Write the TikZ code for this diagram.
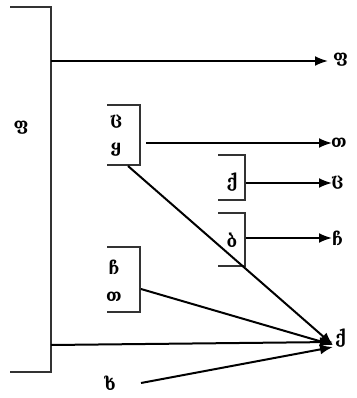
\documentclass[tikz,border=0pt]{standalone}
\usepackage{fontspec}
\usetikzlibrary{arrows.meta}
\newfontfamily\geo{DejaVu Serif}
\begin{document}
\begin{tikzpicture}[x=1pt,y=-1pt,
  lbl/.style={inner sep=0pt,font=\geo\bfseries\fontsize{17}{19}\selectfont},
  brk/.style={line width=1.6pt,draw=black!80},
  arr/.style={line width=2pt,-{Latex[length=13pt,width=10pt]}},
  ln/.style={line width=2pt}]
\useasboundingbox (0,0) rectangle (356,398);
% left big bracket
\coordinate (LT) at (10,7);
\coordinate (LTR) at (51,7);
\coordinate (LBR) at (51,372);
\coordinate (LB) at (10,372);
\draw[brk] (LT) -- (LTR) -- (LBR) -- (LB);
\node[lbl] (left) at (21,128) {ფ};
% box 1
\draw[brk] (107,105) coordinate (b1t) -- (140,105) -- (140,165) coordinate (b1r) -- (107,165) coordinate (b1b);
\node[lbl] (c1) at (116,122) {ც};
\node[lbl] (y1) at (116,150) {ყ};
% box 2
\draw[brk] (218,155) -- (245,155) -- (245,200) -- (218,200);
\node[lbl] (k2) at (232,182) {ქ};
% box 3
\draw[brk] (218,213) -- (245,213) -- (245,266) -- (218,266);
\node[lbl] (b3) at (232,240) {ბ};
% box 4
\draw[brk] (107,247) -- (140,247) -- (140,312) -- (107,312);
\node[lbl] (ch4) at (114,267) {ჩ};
\node[lbl] (t4) at (114,297) {თ};
% right labels
\node[lbl,anchor=west] (rP) at (333,60) {ფ};
\node[lbl,anchor=west] (rT) at (331,143) {თ};
\node[lbl,anchor=west] (rC) at (331,183) {ც};
\node[lbl,anchor=west] (rCh) at (332,238) {ჩ};
\node[lbl,anchor=west] (rK) at (335,338) {ქ};
\node[lbl] (kh) at (110,383) {ხ};
% connectors
\coordinate (s1) at (51,61);
\coordinate (e1) at (328,61);
\draw[arr] (s1) -- (e1);
\coordinate (s2) at (146,143);
\coordinate (e2) at (332,143);
\draw[arr] (s2) -- (e2);
\coordinate (s3) at (246,183);
\coordinate (e3) at (332,183);
\draw[arr] (s3) -- (e3);
\coordinate (s4) at (246,238);
\coordinate (e4) at (332,238);
\draw[arr] (s4) -- (e4);
\coordinate (T) at (333,345);
\coordinate (s5) at (128,166);
\draw[arr] (s5) -- (T);
\coordinate (s6) at (141,289);
\draw[arr] (s6) -- (T);
\coordinate (s7) at (51,345);
\draw[arr] (s7) -- (333,342);
\coordinate (s8) at (141,383);
\draw[arr] (s8) -- (333,347);
\end{tikzpicture}
\end{document}
